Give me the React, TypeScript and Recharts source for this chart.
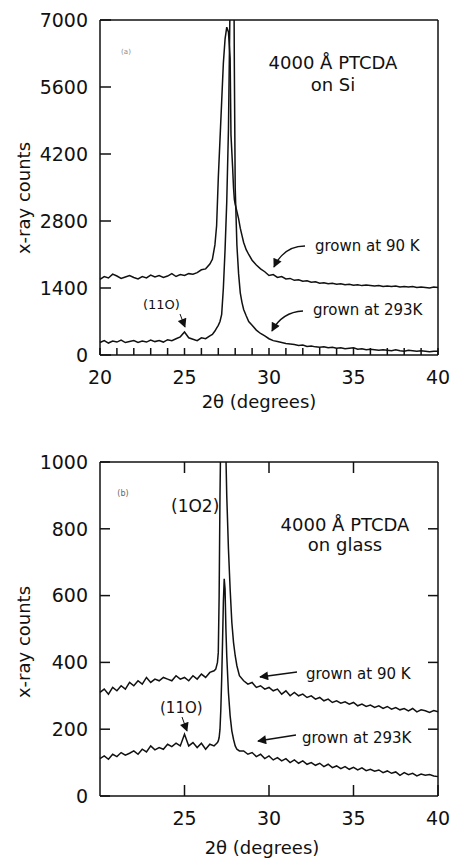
import React from "react";
import { LineChart, Line, XAxis, YAxis, ReferenceLine } from "recharts";

const FONT = "'DejaVu Sans', 'Liberation Sans', Arial, sans-serif";
const INK = "#111";

// (a) 4000 Å PTCDA on Si
const siAngles = [
  20, 20.25, 20.5, 20.75, 21, 21.25, 21.5, 21.75, 22, 22.25, 22.5, 22.75, 23,
  23.25, 23.5, 23.75, 24, 24.25, 24.5, 24.75, 25, 25.25, 25.5, 25.75, 26, 26.25,
  26.5, 26.65, 26.8, 26.9, 27, 27.1, 27.2, 27.3, 27.4, 27.5, 27.6, 27.7, 27.75,
  27.8, 27.85, 27.9, 27.95, 28, 28.1, 28.2, 28.3, 28.4, 28.5, 28.65, 28.8, 29,
  29.25, 29.5, 29.75, 30, 30.25, 30.5, 30.75, 31, 31.25, 31.5, 31.75, 32, 32.25,
  32.5, 32.75, 33, 33.25, 33.5, 33.75, 34, 34.25, 34.5, 34.75, 35, 35.25, 35.5,
  35.75, 36, 36.25, 36.5, 36.75, 37, 37.25, 37.5, 37.75, 38, 38.25, 38.5, 38.75,
  39, 39.25, 39.5, 39.75, 40,
];
const siGrown90K = [
  1580, 1640, 1610, 1690, 1650, 1600, 1630, 1660, 1620, 1590, 1640, 1610, 1670,
  1630, 1660, 1620, 1650, 1700, 1640, 1680, 1660, 1700, 1690, 1720, 1780, 1800,
  1900, 2000, 2300, 2700, 3700, 4500, 5300, 6100, 6600, 6850, 6750, 6200, 4600,
  4250, 3900, 3500, 3250, 3150, 3000, 2850, 2650, 2500, 2350, 2200, 2100, 1980,
  1880, 1800, 1740, 1660, 1680, 1620, 1640, 1590, 1600, 1560, 1570, 1540, 1550,
  1520, 1530, 1500, 1510, 1490, 1500, 1480, 1490, 1470, 1480, 1460, 1470, 1450,
  1460, 1450, 1440, 1450, 1430, 1440, 1430, 1440, 1420, 1430, 1420, 1430, 1410,
  1420, 1410, 1400, 1420, 1410,
];
const siGrown293K = [
  260, 300, 250, 290, 270, 310, 260, 280, 300, 260, 290, 270, 310, 280, 300,
  270, 320, 300, 340, 380, 480, 360, 330, 300, 360, 340,
  400, 430, 500, 560, 620, 700, 850, 1400, 2200, 3200, 4700, 7500, 9500, 10000,
  10000, 9500, 6000, 3500, 2300, 1700, 1300, 1100, 950, 820, 700, 620, 520,
  450, 400, 340, 300, 280, 260, 240, 230, 220, 200, 210, 180, 190, 170, 160,
  170, 150, 160, 140, 150, 130, 140, 150, 120, 130, 110, 120, 110, 100, 110,
  100, 90, 110, 90, 80, 100, 90, 80, 90, 80, 70, 80, 80,
];
const siYTicks = [0, 1400, 2800, 4200, 5600, 7000];
const siXTicks = [
  20, 21, 22, 23, 24, 25, 26, 27, 28, 29, 30, 31, 32, 33, 34, 35, 36, 37, 38, 39, 40,
];

// (b) 4000 Å PTCDA on glass
const glassAngles = [
  20, 20.25, 20.5, 20.75, 21, 21.25, 21.5, 21.75, 22, 22.25, 22.5, 22.75, 23,
  23.25, 23.5, 23.75, 24, 24.25, 24.5, 24.75, 25, 25.25, 25.5, 25.75, 26, 26.25,
  26.5, 26.75,
  26.85, 26.95, 27, 27.05, 27.1, 27.15, 27.2, 27.25, 27.3, 27.35, 27.4, 27.45,
  27.5, 27.6, 27.7, 27.8, 27.9, 28, 28.1, 28.25,
  28.5, 28.75, 29, 29.25, 29.5, 29.75, 30, 30.25, 30.5, 30.75, 31, 31.25, 31.5,
  31.75, 32, 32.25, 32.5, 32.75, 33, 33.25, 33.5, 33.75, 34, 34.25, 34.5, 34.75,
  35, 35.25, 35.5, 35.75, 36, 36.25, 36.5, 36.75, 37, 37.25, 37.5, 37.75, 38,
  38.25, 38.5, 38.75, 39, 39.25, 39.5, 39.75, 40,
];
const glassGrown90K = [
  310, 320, 305, 325, 315, 330, 320, 340, 330, 345, 335, 355, 340, 350, 345,
  355, 350, 345, 360, 350, 355, 345, 360, 350, 365, 355, 370, 375,
  380, 400, 430, 600, 900, 1100, 1300, 1400, 1400, 1300, 1150, 1020, 900, 740,
  620, 520, 460, 420, 390, 360,
  345, 335, 340, 325, 330, 320, 325, 315, 320, 305, 315, 300, 310, 300, 305,
  295, 300, 290, 295, 285, 290, 280, 285, 278, 282, 275, 280, 270, 275, 268,
  272, 265, 270, 262, 268, 260, 265, 258, 262, 255, 262, 252, 258, 255, 250,
  256, 252,
];
const glassGrown293K = [
  112, 120, 110, 125, 118, 130, 122, 128, 135, 125, 140, 132, 150, 138, 145,
  140, 155, 148, 158, 150, 185, 150, 160, 145, 158, 140, 155, 150,
  155, 160, 165, 175, 200, 260, 350, 460, 580, 650, 620, 500, 420, 310, 240,
  195, 170, 150, 140, 135,
  135, 125, 130, 118, 125, 112, 120, 108, 115, 105, 112, 100, 108, 98, 105, 95,
  100, 92, 98, 88, 95, 85, 90, 82, 88, 80, 86, 78, 84, 76, 80, 74, 78, 70, 75,
  68, 72, 62, 70, 64, 68, 60, 66, 62, 64, 60, 58,
];
const glassYTicks = [0, 200, 400, 600, 800, 1000];
const glassXTicks = [25, 30, 35, 40];
const glassTopTicks = [25, 30, 35];
const glassRightTicks = [200, 400, 600, 800];

const siRows = siAngles.map((x, i) => ({
  x,
  k90: siGrown90K[i],
  k293: siGrown293K[i],
}));
const glassRows = glassAngles.map((x, i) => ({
  x,
  k90: glassGrown90K[i],
  k293: glassGrown293K[i],
}));

const tickText = { fill: INK, fontSize: 19, fontFamily: FONT };
const axisStroke = { stroke: INK, strokeWidth: 1.5 };

// short inward tick hanging from the top frame
const TopTick = (p: any) => {
  const y = Math.min(p.y1, p.y2);
  return <line x1={p.x1} x2={p.x1} y1={y} y2={y + 11} stroke={INK} strokeWidth={1.5} />;
};
// short inward tick on the right frame
const RightTick = (p: any) => {
  const x = Math.max(p.x1, p.x2);
  return <line x1={x - 10} x2={x} y1={p.y1} y2={p.y1} stroke={INK} strokeWidth={1.5} />;
};

const Panel = (props: {
  rows: { x: number; k90: number; k293: number }[];
  height: number;
  top: number;
  yMax: number;
  yTicks: number[];
  xTicks: number[];
  xLabel: (v: number) => string;
  topTicks: number[];
  rightTicks: number[];
  bottomTick: number;
  sideTick: number;
}) => (
  <LineChart
    width={460}
    height={props.height}
    data={props.rows}
    margin={{ top: props.top, right: 22, left: 0, bottom: 0 }}
  >
    <XAxis
      dataKey="x"
      type="number"
      domain={[20, 40]}
      ticks={props.xTicks}
      interval={0}
      tickFormatter={props.xLabel}
      height={65}
      tickSize={-props.bottomTick}
      tickMargin={16 + props.bottomTick}
      axisLine={axisStroke}
      tickLine={axisStroke}
      tick={tickText}
    />
    <YAxis
      type="number"
      domain={[0, props.yMax]}
      allowDataOverflow
      ticks={props.yTicks}
      interval={0}
      width={100}
      tickSize={-props.sideTick}
      tickMargin={12 + props.sideTick}
      axisLine={axisStroke}
      tickLine={axisStroke}
      tick={tickText}
    />
    <ReferenceLine y={props.yMax} stroke={INK} strokeWidth={1.5} />
    <ReferenceLine x={40} stroke={INK} strokeWidth={1.5} />
    {props.topTicks.map((t) => (
      <ReferenceLine key={"t" + t} x={t} shape={TopTick} />
    ))}
    {props.rightTicks.map((t) => (
      <ReferenceLine key={"r" + t} y={t} shape={RightTick} />
    ))}
    <Line
      type="linear"
      dataKey="k90"
      stroke={INK}
      strokeWidth={1.5}
      dot={false}
      isAnimationActive={false}
    />
    <Line
      type="linear"
      dataKey="k293"
      stroke={INK}
      strokeWidth={1.5}
      dot={false}
      isAnimationActive={false}
    />
  </LineChart>
);

const txt = { fill: INK, fontFamily: FONT };

export default function App() {
  return (
    <div
      style={{
        position: "absolute",
        left: 0,
        top: 0,
        width: 460,
        height: 861,
        background: "#fff",
        fontFamily: FONT,
      }}
    >
      <div style={{ position: "absolute", left: 0, top: 0 }}>
        <Panel
          rows={siRows}
          height={420}
          top={20}
          yMax={7000}
          yTicks={siYTicks}
          xTicks={siXTicks}
          xLabel={(v) => (v % 5 === 0 ? String(v) : "")}
          topTicks={[]}
          rightTicks={[]}
          bottomTick={7}
          sideTick={11}
        />
      </div>
      <div style={{ position: "absolute", left: 0, top: 420 }}>
        <Panel
          rows={glassRows}
          height={441}
          top={42}
          yMax={1000}
          yTicks={glassYTicks}
          xTicks={glassXTicks}
          xLabel={(v) => String(v)}
          topTicks={glassTopTicks}
          rightTicks={glassRightTicks}
          bottomTick={11}
          sideTick={10}
        />
      </div>
      <svg
        width={460}
        height={861}
        style={{ position: "absolute", left: 0, top: 0, pointerEvents: "none" }}
      >
        <defs>
          <marker
            id="head"
            viewBox="0 0 10 10"
            refX="9"
            refY="5"
            markerUnits="userSpaceOnUse"
            markerWidth="11"
            markerHeight="9"
            orient="auto"
          >
            <path d="M0,0 L10,5 L0,10 z" fill={INK} />
          </marker>
        </defs>

        {/* panel (a) */}
        <text x={30} y={198} fontSize={18} textAnchor="middle" transform="rotate(-90 30 198)" {...txt}>
          x-ray counts
        </text>
        <text x={259} y={408} fontSize={18} textAnchor="middle" {...txt}>
          2θ (degrees)
        </text>
        <text x={126} y={54} fontSize={7} textAnchor="middle" fill="#888" fontFamily={FONT}>
          (a)
        </text>
        <text x={333} y={69} fontSize={18} textAnchor="middle" {...txt}>
          4000 Å PTCDA
        </text>
        <text x={333} y={91} fontSize={18} textAnchor="middle" {...txt}>
          on Si
        </text>
        <text x={315} y={251} fontSize={15} {...txt}>
          grown at 90 K
        </text>
        <text x={313} y={315} fontSize={15} {...txt}>
          grown at 293K
        </text>
        <text x={143} y={309} fontSize={13} {...txt}>
          (11O)
        </text>
        <path d="M 305 246 Q 284 246 274 267" fill="none" stroke={INK} strokeWidth={1.4} markerEnd="url(#head)" />
        <path d="M 303 311 Q 282 312 272 331" fill="none" stroke={INK} strokeWidth={1.4} markerEnd="url(#head)" />
        <path d="M 180 314 L 185 327" fill="none" stroke={INK} strokeWidth={1} markerEnd="url(#head)" />

        {/* panel (b) */}
        <text x={30} y={642} fontSize={18} textAnchor="middle" transform="rotate(-90 30 642)" {...txt}>
          x-ray counts
        </text>
        <text x={262} y={854} fontSize={18} textAnchor="middle" {...txt}>
          2θ (degrees)
        </text>
        <text x={123} y={496} fontSize={8} textAnchor="middle" fill="#666" fontFamily={FONT}>
          (b)
        </text>
        <text x={171} y={512} fontSize={17} {...txt}>
          (1O2)
        </text>
        <text x={345} y={531} fontSize={18} textAnchor="middle" {...txt}>
          4000 Å PTCDA
        </text>
        <text x={345} y={551} fontSize={18} textAnchor="middle" {...txt}>
          on glass
        </text>
        <text x={306} y={679} fontSize={15} {...txt}>
          grown at 90 K
        </text>
        <text x={302} y={743} fontSize={15} {...txt}>
          grown at 293K
        </text>
        <text x={160} y={713} fontSize={15} {...txt}>
          (11O)
        </text>
        <path d="M 297 672 L 260 677" fill="none" stroke={INK} strokeWidth={1.4} markerEnd="url(#head)" />
        <path d="M 296 735 L 258 741" fill="none" stroke={INK} strokeWidth={1.4} markerEnd="url(#head)" />
        <path d="M 182 717 L 187 731" fill="none" stroke={INK} strokeWidth={1} markerEnd="url(#head)" />
      </svg>
    </div>
  );
}
